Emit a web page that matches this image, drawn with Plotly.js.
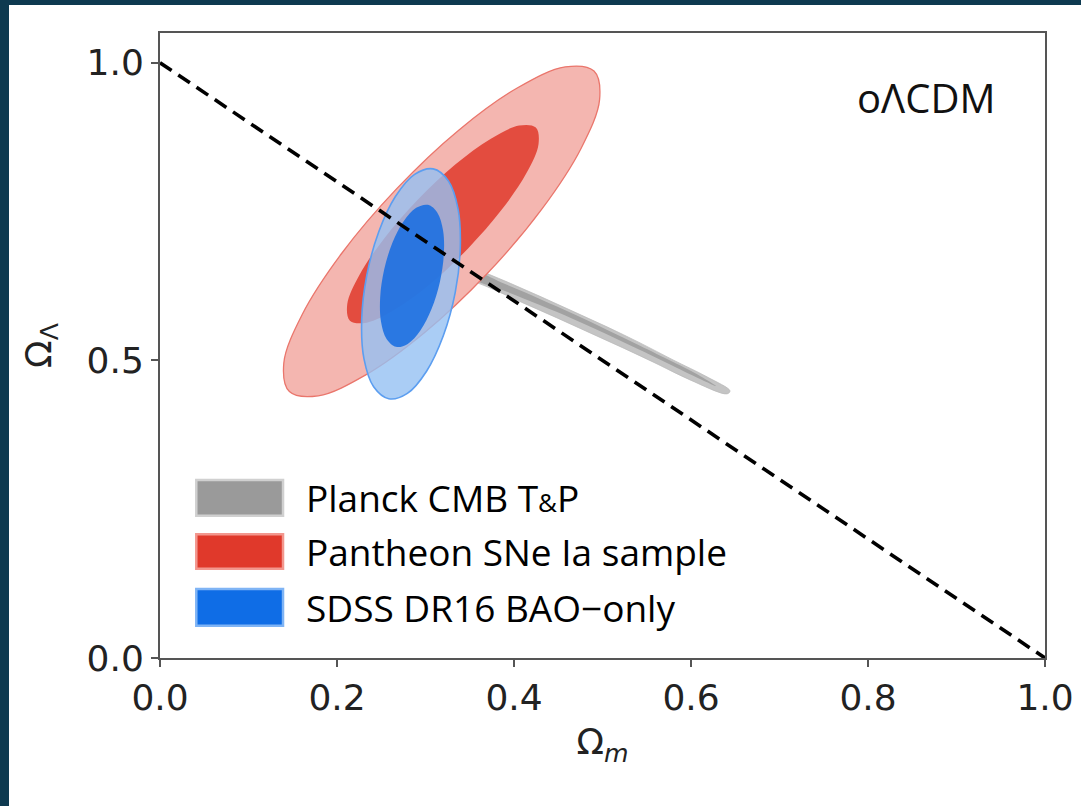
<!DOCTYPE html>
<html>
<head>
<meta charset="utf-8">
<script src="https://cdn.plot.ly/plotly-3.0.1.min.js"></script>
<style>
  html, body { margin: 0; padding: 0; background: #0e3a50; width: 1081px; height: 806px; overflow: hidden; }
  #chart { position: absolute; left: 9px; top: 5px; width: 1072px; height: 801px; background: #ffffff; }
</style>
</head>
<body>
<div id="chart"></div>
<script>
// ---- Data (Omega_m, Omega_Lambda) ----
const xTicks = [0.0, 0.2, 0.4, 0.6, 0.8, 1.0];
const yTicks = [0.0, 0.5, 1.0];

// Flat universe line Omega_m + Omega_Lambda = 1
const flatX = [0, 1];
const flatY = [1, 0];

// Planck CMB T&P (grey) contour boundaries
const planckOuterX = [0.3277, 0.3537, 0.3921, 0.4294, 0.4667, 0.5051, 0.5424, 0.5797, 0.6181, 0.6441, 0.6407, 0.5989, 0.5616, 0.5232, 0.4859, 0.4486, 0.4102, 0.3729, 0.3390, 0.3232, 0.3277];
const planckOuterY = [0.6706, 0.6555, 0.6319, 0.6076, 0.5824, 0.5563, 0.5294, 0.5008, 0.4723, 0.4487, 0.4437, 0.4672, 0.4941, 0.5210, 0.5462, 0.5714, 0.5966, 0.6218, 0.6420, 0.6555, 0.6706];
const planckInnerX = [0.3390, 0.3921, 0.4667, 0.5424, 0.6102, 0.6282, 0.6102, 0.5424, 0.4667, 0.3921, 0.3390, 0.3390];
const planckInnerY = [0.6588, 0.6269, 0.5782, 0.5244, 0.4739, 0.4571, 0.4689, 0.5176, 0.5697, 0.6151, 0.6471, 0.6588];

// Pantheon SNe Ia (red) contour boundaries
const panOuterX = [0.3692, 0.2994, 0.2325, 0.1788, 0.1462, 0.1399, 0.1607, 0.2054, 0.2675, 0.3372, 0.4041, 0.4579, 0.4904, 0.4967, 0.4759, 0.4312, 0.3692];
const panOuterY = [0.6450, 0.5472, 0.4756, 0.4405, 0.4476, 0.4956, 0.5771, 0.6800, 0.7886, 0.8864, 0.9580, 0.9931, 0.9861, 0.9380, 0.8565, 0.7536, 0.6450];
const panInnerX = [0.3481, 0.3058, 0.2654, 0.2336, 0.2146, 0.2116, 0.2252, 0.2531, 0.2912, 0.3336, 0.3739, 0.4058, 0.4247, 0.4277, 0.4141, 0.3862, 0.3481];
const panInnerY = [0.6881, 0.6289, 0.5854, 0.5634, 0.5667, 0.5946, 0.6432, 0.7045, 0.7697, 0.8289, 0.8724, 0.8945, 0.8911, 0.8632, 0.8146, 0.7533, 0.6881];

// SDSS DR16 BAO-only (blue) contour boundaries
const baoOuterX = [0.3336, 0.3201, 0.3012, 0.2795, 0.2585, 0.2414, 0.2305, 0.2279, 0.2337, 0.2471, 0.2660, 0.2877, 0.3087, 0.3259, 0.3367, 0.3393, 0.3336];
const baoOuterY = [0.6141, 0.5413, 0.4818, 0.4445, 0.4355, 0.4556, 0.5024, 0.5679, 0.6430, 0.7158, 0.7753, 0.8126, 0.8217, 0.8015, 0.7548, 0.6892, 0.6141];
const baoInnerX = [0.3162, 0.3069, 0.2942, 0.2800, 0.2667, 0.2560, 0.2497, 0.2488, 0.2533, 0.2626, 0.2753, 0.2895, 0.3028, 0.3134, 0.3198, 0.3207, 0.3162];
const baoInnerY = [0.6314, 0.5866, 0.5501, 0.5277, 0.5227, 0.5358, 0.5652, 0.6061, 0.6526, 0.6975, 0.7339, 0.7563, 0.7613, 0.7482, 0.7188, 0.6780, 0.6314];

// Legend entries
const legendLabels = ['Planck CMB T<span style="font-size:26px">&amp;</span>P', 'Pantheon SNe Ia sample', 'SDSS DR16 BAO\u2212only'];
const modelLabel = 'o\u039bCDM';

// ---- Styling ----
const legendFill = ['#9a9a9a', '#e0392b', '#0f6de6'];
const legendEdge = ['#d0d0d0', '#f3978e', '#7fb4f5'];

function contour(x, y, fill, lineColor, lineWidth) {
  return {
    type: 'scatter', mode: 'lines', x: x, y: y,
    fill: 'toself', fillcolor: fill,
    line: { color: lineColor, width: lineWidth, shape: 'spline', smoothing: 1 },
    hoverinfo: 'skip', showlegend: false
  };
}

const traces = [
  contour(planckOuterX, planckOuterY, '#c4c4c4', 'rgba(185,185,185,0.9)', 0.8),
  contour(planckInnerX, planckInnerY, '#a2a2a2', 'rgba(0,0,0,0)', 0),
  contour(panOuterX, panOuterY, '#f4b6b0', '#ea766c', 1.3),
  contour(panInnerX, panInnerY, '#e34c3f', 'rgba(0,0,0,0)', 0),
  contour(baoOuterX, baoOuterY, 'rgba(149,192,242,0.8)', '#5c9ef0', 1.6),
  contour(baoInnerX, baoInnerY, 'rgba(20,108,226,0.85)', 'rgba(0,0,0,0)', 0),
  {
    type: 'scatter', mode: 'lines', x: flatX, y: flatY,
    line: { color: '#000000', width: 3.6, dash: '14px,8px' },
    hoverinfo: 'skip', showlegend: false, cliponaxis: false
  }
];

// Legend drawn as swatches + text inside the plot (data coordinates)
const legX0 = 0.041, legX1 = 0.139, legTextX = 0.163;
const legYTop = [0.299, 0.208, 0.116];
const legYBot = [0.239, 0.150, 0.054];
const shapes = [];
const annotations = [];
const textFont = { family: '"Open Sans", Lato, sans-serif', size: 37, color: '#000000' };
for (let i = 0; i < legendLabels.length; i++) {
  shapes.push({
    type: 'rect', xref: 'x', yref: 'y', x0: legX0, x1: legX1, y0: legYBot[i], y1: legYTop[i],
    fillcolor: legendFill[i], line: { color: legendEdge[i], width: 2.5 }, layer: 'above'
  });
  annotations.push({
    xref: 'x', yref: 'y', x: legTextX, y: (legYTop[i] + legYBot[i]) / 2,
    text: legendLabels[i], showarrow: false, xanchor: 'left', yanchor: 'middle',
    font: textFont
  });
}
annotations.push({
  xref: 'x', yref: 'y', x: 0.9458, y: 0.941, text: modelLabel, showarrow: false,
  xanchor: 'right', yanchor: 'middle',
  font: { family: '"Open Sans", Lato, sans-serif', size: 40, color: '#111111' }
});

const tickFont = { family: '"DejaVu Sans", sans-serif', size: 36, color: '#222222' };

const layout = {
  width: 1072, height: 801,
  paper_bgcolor: '#ffffff', plot_bgcolor: '#ffffff',
  margin: { l: 151, r: 36, t: 28, b: 148 },
  showlegend: false,
  xaxis: {
    range: [0, 1], tickvals: xTicks, tickformat: '.1f',
    ticks: 'outside', ticklen: 7, tickwidth: 2, tickcolor: '#555555',
    showline: true, linecolor: '#555555', linewidth: 2, mirror: true,
    showgrid: false, zeroline: false, tickfont: tickFont,
    title: { text: '\u03a9<sub><i>m</i></sub>', font: tickFont, standoff: 12 }
  },
  yaxis: {
    range: [0, 1.05], tickvals: yTicks, tickformat: '.1f',
    ticks: 'outside', ticklen: 7, tickwidth: 2, tickcolor: '#555555',
    showline: true, linecolor: '#555555', linewidth: 2, mirror: true,
    showgrid: false, zeroline: false, tickfont: tickFont,
    title: { text: '\u03a9<sub>\u039b</sub>', font: tickFont, standoff: 24 }
  },
  shapes: shapes,
  annotations: annotations
};

Plotly.newPlot('chart', traces, layout, { displayModeBar: false, staticPlot: true });
</script>
</body>
</html>
